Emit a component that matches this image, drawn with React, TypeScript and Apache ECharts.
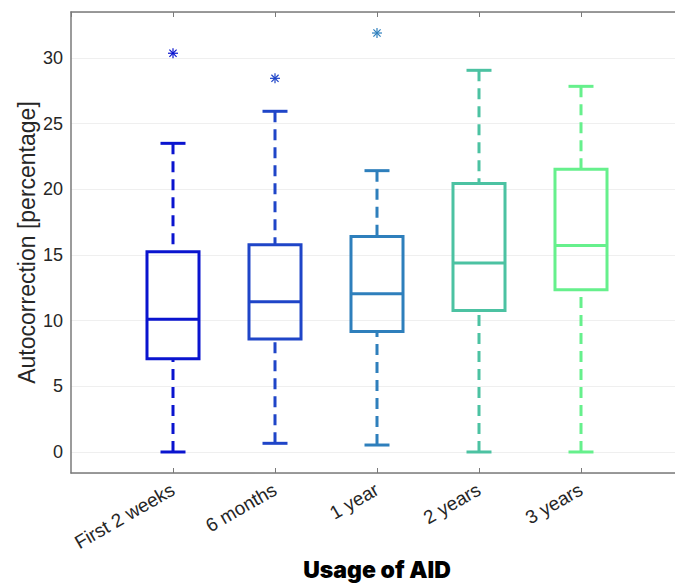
import React, { useEffect, useRef } from "react";
import * as echarts from "echarts";

const categories = ["First 2 weeks", "6 months", "1 year", "2 years", "3 years"];
const whiskerLow = [0, 0.66, 0.53, 0, 0];
const q1 = [7.09, 8.61, 9.17, 10.77, 12.35];
const median = [10.11, 11.43, 12.04, 14.38, 15.73];
const q3 = [15.24, 15.78, 16.41, 20.45, 21.52];
const whiskerHigh = [23.5, 25.94, 21.42, 29.06, 27.84];
const outlierGroup = [1, 2, 3];
const outlierValue = [30.36, 28.45, 31.9];

const colors = ["#0a14cf", "#1f45c8", "#2e7fbc", "#4cc2a2", "#66f08c"];

export default function App() {
  const ref = useRef<HTMLDivElement>(null);
  useEffect(() => {
    if (!ref.current) return;
    const chart = echarts.init(ref.current, undefined, { renderer: "svg" });
    const boxData = categories.map((_, i) => [i + 1, whiskerLow[i], q1[i], median[i], q3[i], whiskerHigh[i]]);
    const outData = outlierGroup.map((g, i) => [g, outlierValue[i]]);
    const labelFont = "'Liberation Sans', Arial, sans-serif";
    chart.setOption({
      animation: false,
      grid: { left: 71, top: 12, right: 7, bottom: 111, containLabel: false, outerBoundsMode: "none" },
      xAxis: [
        {
          type: "value",
          min: 0,
          max: 6,
          interval: 1,
          position: "bottom",
          axisLine: { show: true, onZero: false, lineStyle: { color: "#7a7a7a", width: 1.5 } },
          axisTick: { show: true, inside: true, length: 5, lineStyle: { color: "#7a7a7a", width: 1 } },
          splitLine: { show: false },
          axisLabel: {
            rotate: 30,
            margin: 15,
            fontSize: 19,
            fontFamily: labelFont,
            color: "#262626",
            showMinLabel: false,
            showMaxLabel: false,
            formatter: (v: number) => categories[v - 1] ?? "",
          },
          name: "Usage of AID",
          nameLocation: "middle",
          nameGap: 85,
          nameMoveOverlap: false,
          nameTextStyle: { fontSize: 23, fontWeight: 900, fontFamily: "Inter, sans-serif", color: "#000" },
        },
        {
          type: "value",
          min: 0,
          max: 6,
          interval: 1,
          position: "top",
          axisLine: { show: true, onZero: false, lineStyle: { color: "#7a7a7a", width: 1.5 } },
          axisTick: { show: true, inside: true, length: 5, lineStyle: { color: "#7a7a7a", width: 1 } },
          splitLine: { show: false },
          axisLabel: { show: false },
        },
      ],
      yAxis: {
        type: "value",
        min: -1.6,
        max: 33.5,
        splitNumber: 7,
        axisLine: { show: true, onZero: false, lineStyle: { color: "#7a7a7a", width: 1.5 } },
        axisTick: { show: false },
        splitLine: { show: true, lineStyle: { color: "#efefef", width: 1 } },
        axisLabel: {
          fontSize: 18,
          fontFamily: labelFont,
          color: "#262626",
          margin: 8,
          showMinLabel: false,
          showMaxLabel: false,
        },
        name: "Autocorrection [percentage]",
        nameLocation: "middle",
        nameGap: 33,
        nameMoveOverlap: false,
        nameTextStyle: { fontSize: 23, fontFamily: labelFont, color: "#262626" },
      },
      series: [
        {
          type: "custom",
          xAxisIndex: 0,
          data: boxData,
          renderItem: (params: any, api: any) => {
            const x = api.value(0);
            const lo = api.value(1);
            const a = api.value(2);
            const m = api.value(3);
            const b = api.value(4);
            const hi = api.value(5);
            const unit = api.size([1, 0])[0];
            const bw = (unit * 0.51) / 2;
            const cw = (unit * 0.245) / 2;
            const pLo = api.coord([x, lo]);
            const pA = api.coord([x, a]);
            const pM = api.coord([x, m]);
            const pB = api.coord([x, b]);
            const pHi = api.coord([x, hi]);
            const color = colors[params.dataIndex];
            const solid = { stroke: color, lineWidth: 3, fill: "none" };
            const dashed = { stroke: color, lineWidth: 3, lineDash: [11, 7] };
            return {
              type: "group",
              children: [
                { type: "line", shape: { x1: pHi[0], y1: pHi[1], x2: pB[0], y2: pB[1] }, style: dashed },
                { type: "line", shape: { x1: pLo[0], y1: pLo[1], x2: pA[0], y2: pA[1] }, style: dashed },
                { type: "line", shape: { x1: pHi[0] - cw, y1: pHi[1], x2: pHi[0] + cw, y2: pHi[1] }, style: solid },
                { type: "line", shape: { x1: pLo[0] - cw, y1: pLo[1], x2: pLo[0] + cw, y2: pLo[1] }, style: solid },
                {
                  type: "rect",
                  shape: { x: pB[0] - bw, y: pB[1], width: 2 * bw, height: pA[1] - pB[1] },
                  style: solid,
                },
                { type: "line", shape: { x1: pM[0] - bw, y1: pM[1], x2: pM[0] + bw, y2: pM[1] }, style: solid },
              ],
            };
          },
        },
        {
          type: "custom",
          xAxisIndex: 0,
          data: outData,
          renderItem: (params: any, api: any) => {
            const p = api.coord([api.value(0), api.value(1)]);
            const color = colors[api.value(0) - 1];
            const r = 5;
            const d = r * 0.72;
            const st = { stroke: color, lineWidth: 1.2 };
            return {
              type: "group",
              children: [
                { type: "line", shape: { x1: p[0] - r, y1: p[1], x2: p[0] + r, y2: p[1] }, style: st },
                { type: "line", shape: { x1: p[0], y1: p[1] - r, x2: p[0], y2: p[1] + r }, style: st },
                { type: "line", shape: { x1: p[0] - d, y1: p[1] - d, x2: p[0] + d, y2: p[1] + d }, style: st },
                { type: "line", shape: { x1: p[0] - d, y1: p[1] + d, x2: p[0] + d, y2: p[1] - d }, style: st },
              ],
            };
          },
        },
      ],
    });
    return () => chart.dispose();
  }, []);
  return (
    <div
      ref={ref}
      style={{ position: "fixed", left: 0, top: 0, width: 690, height: 584, background: "#fff" }}
    />
  );
}
